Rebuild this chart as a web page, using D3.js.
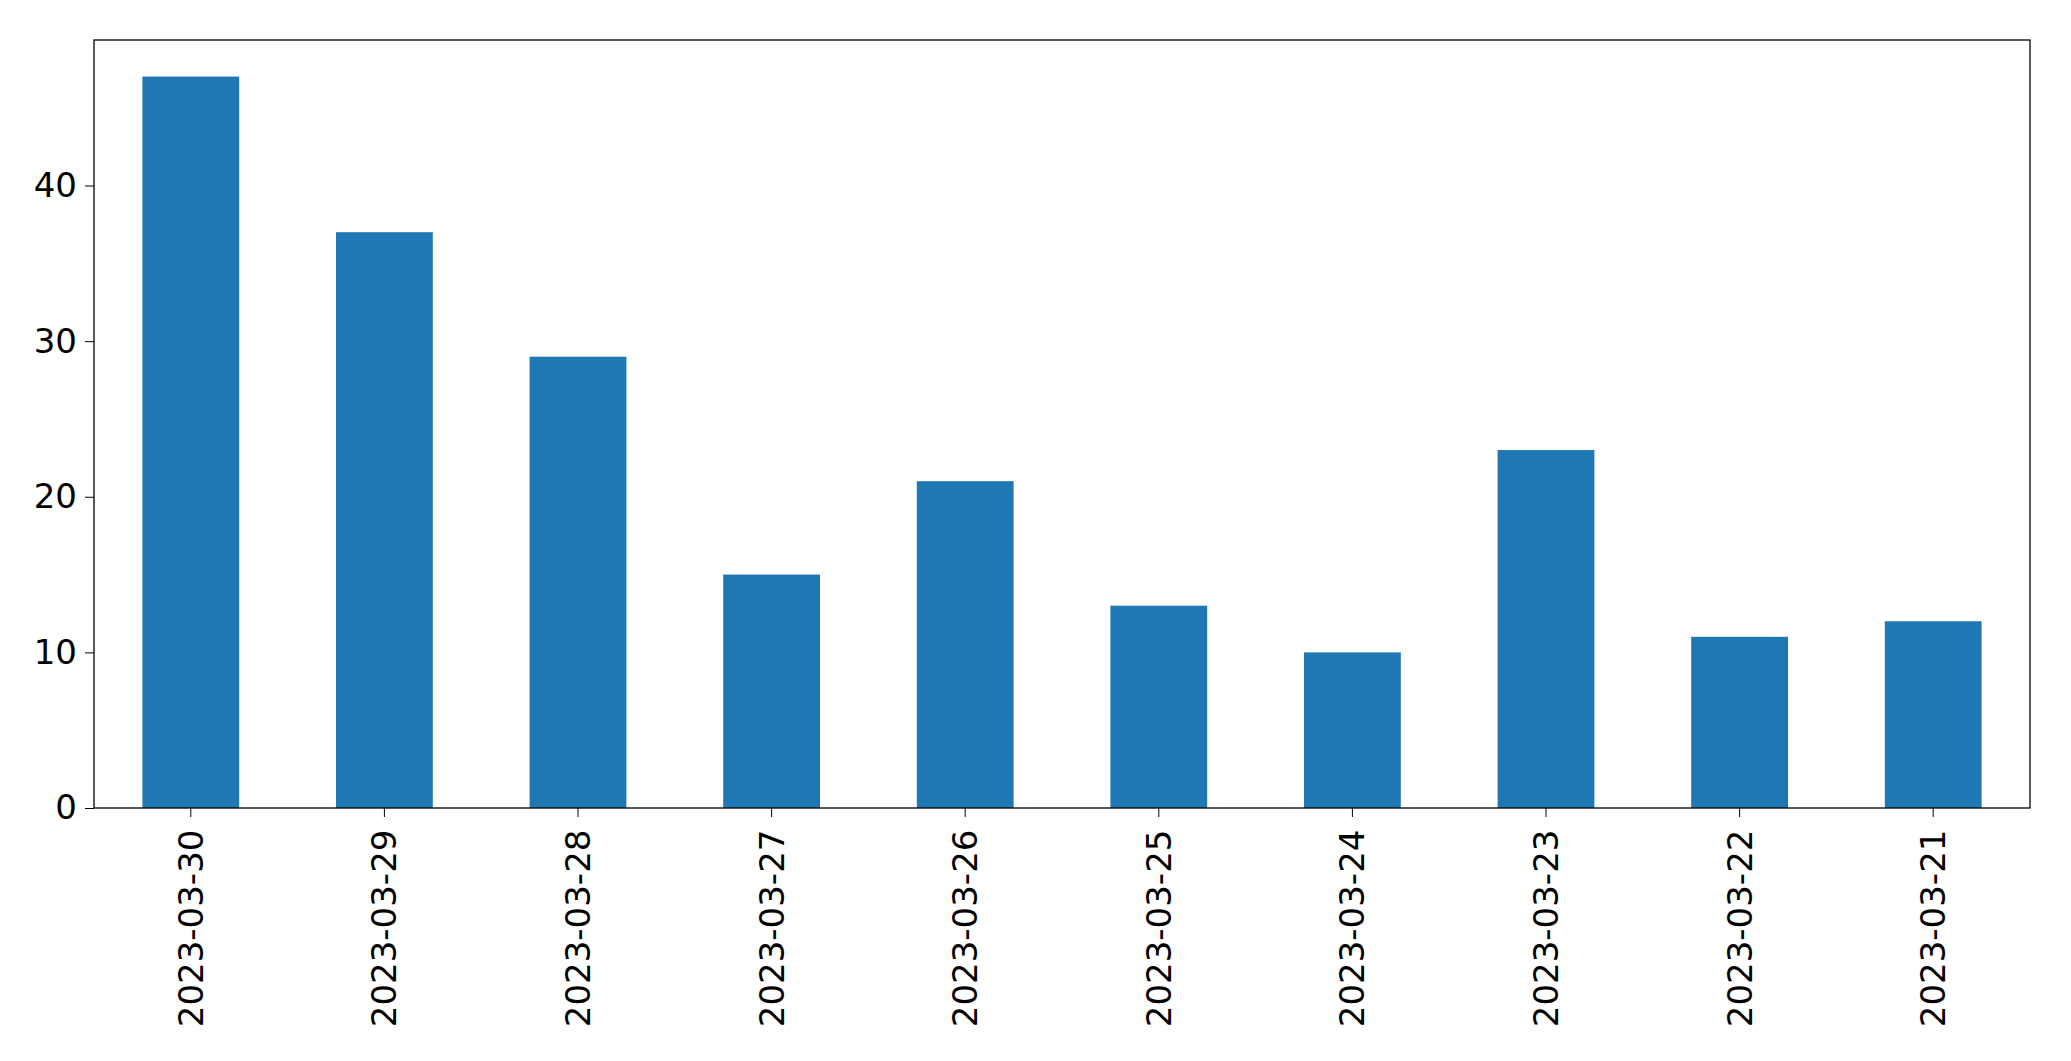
<!DOCTYPE html><html><head><meta charset="utf-8">
<script src="https://cdn.jsdelivr.net/npm/d3@7"></script>
<style>body{margin:0;background:#fff}text{font-family:"DejaVu Sans";}</style></head><body>
<script>
const categories=["2023-03-30","2023-03-29","2023-03-28","2023-03-27","2023-03-26","2023-03-25","2023-03-24","2023-03-23","2023-03-22","2023-03-21"];
const values=[47,37,29,15,21,13,10,23,11,12];
const yTicks=[0,10,20,30,40];
const W=2071,H=1061,L=94,R=2030,T=40,B=808;
const svg=d3.select("body").append("svg").attr("width",W).attr("height",H);
const x=d3.scaleBand().domain(categories).range([L,R]).paddingInner(0.5).paddingOuter(0.25);
const y=d3.scaleLinear().domain([0,d3.max(values)*1.05]).range([B,T]);
svg.selectAll("rect.bar").data(values).join("rect").attr("class","bar")
 .attr("x",(d,i)=>x(categories[i])).attr("width",x.bandwidth())
 .attr("y",d=>y(d)).attr("height",d=>B-y(d)).attr("fill","#1f77b4");
const ya=svg.append("g").attr("transform",`translate(${L},0)`).call(d3.axisLeft(y).tickValues(yTicks).tickSize(9).tickPadding(8).tickFormat(d3.format("d")));
ya.select(".domain").remove();
ya.selectAll("text").attr("font-size",34).attr("fill","#000").attr("font-family","DejaVu Sans");
const xa=svg.append("g").attr("transform",`translate(0,${B})`).call(d3.axisBottom(x).tickSize(9).tickPadding(8));
xa.select(".domain").remove();
xa.selectAll("text").attr("font-size",34).attr("fill","#000").attr("font-family","DejaVu Sans")
 .attr("transform","rotate(-90)").attr("text-anchor","end").attr("dx","-0.4em").attr("dy","0.35em").attr("x",-8).attr("y",0);
svg.append("rect").attr("x",L).attr("y",T).attr("width",R-L).attr("height",B-T).attr("fill","none").attr("stroke","#000").attr("stroke-width",1.3);
</script></body></html>
